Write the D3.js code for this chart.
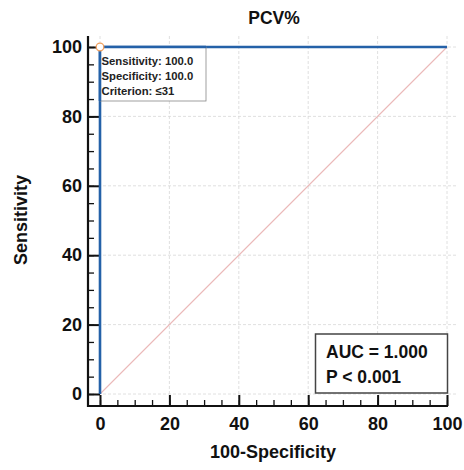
<!DOCTYPE html>
<html>
<head>
<meta charset="utf-8">
<script src="https://cdn.jsdelivr.net/npm/d3@7"></script>
<style>
  body { margin: 0; background: #fff; }
  svg { font-family: "Liberation Sans", Arial, sans-serif; }
</style>
</head>
<body>
<svg id="chart" width="464" height="470"></svg>
<script>
// ROC curve points (100-Specificity, Sensitivity)
const rocX = [0, 0, 100];
const rocY = [0, 100, 100];
const refX = [0, 100];
const refY = [0, 100];
const majorTicks = [0, 20, 40, 60, 80, 100];
const minorTicks = d3.range(0, 101, 5);
const cutoff = {x: 0, y: 100};
const infoLines = ["Sensitivity: 100.0", "Specificity: 100.0", "Criterion: \u226431"];
const statLines = ["AUC = 1.000", "P < 0.001"];

const svg = d3.select('#chart');
const FONT = '"Liberation Sans", Arial, sans-serif';

const frame = {left: 88, right: 458, top: 36, bottom: 406};

const xScale = d3.scaleLinear().domain([0, 100]).range([100, 447]);
const yScale = d3.scaleLinear().domain([0, 100]).range([394, 47]);

// grid
const grid = svg.append('g').attr('stroke', '#d8d8d8').attr('stroke-dasharray', '3,2').attr('stroke-width', 0.8);
grid.selectAll('.vg').data(majorTicks).join('line')
    .attr('x1', d => xScale(d)).attr('x2', d => xScale(d))
    .attr('y1', frame.top).attr('y2', frame.bottom);
grid.selectAll('.hg').data(majorTicks).join('line')
    .attr('y1', d => yScale(d)).attr('y2', d => yScale(d))
    .attr('x1', frame.left).attr('x2', frame.right);

// x axis, ticks point inward
const xMinor = d3.axisBottom(xScale).tickValues(minorTicks).tickSize(-6).tickFormat('');
const xMajor = d3.axisBottom(xScale).tickValues(majorTicks).tickSize(-11);
svg.append('g').attr('transform', `translate(0,${frame.bottom})`).call(xMinor)
    .call(g => g.select('.domain').remove());
svg.append('g').attr('class', 'xmaj').attr('transform', `translate(0,${frame.bottom})`).call(xMajor)
    .call(g => g.select('.domain').remove());

const yMinor = d3.axisLeft(yScale).tickValues(minorTicks).tickSize(-6).tickFormat('');
const yMajor = d3.axisLeft(yScale).tickValues(majorTicks).tickSize(-12).tickPadding(6);
svg.append('g').attr('transform', `translate(${frame.left},0)`).call(yMinor)
    .call(g => g.select('.domain').remove());
svg.append('g').attr('class', 'ymaj').attr('transform', `translate(${frame.left},0)`).call(yMajor)
    .call(g => g.select('.domain').remove());

svg.selectAll('.tick line').attr('stroke', '#111').attr('stroke-width', 1.3);
svg.selectAll('.xmaj .tick line, .ymaj .tick line').attr('stroke-width', 2);
svg.selectAll('.tick text').attr('fill', '#111').attr('font-size', 18).attr('font-weight', 'bold')
    .attr('font-family', FONT);
svg.selectAll('.xmaj .tick text').attr('dy', null).attr('y', 24);
svg.selectAll('.ymaj .tick text').attr('x', -6);

// axis lines
svg.append('line').attr('x1', frame.left).attr('x2', frame.left)
    .attr('y1', frame.top).attr('y2', frame.bottom + 1)
    .attr('stroke', '#111').attr('stroke-width', 2.2);
svg.append('line').attr('x1', frame.left - 1).attr('x2', xScale(100) + 1)
    .attr('y1', frame.bottom).attr('y2', frame.bottom)
    .attr('stroke', '#111').attr('stroke-width', 2.2);

// reference diagonal
svg.append('path')
    .datum(refX.map((x, i) => [x, refY[i]]))
    .attr('d', d3.line().x(d => xScale(d[0])).y(d => yScale(d[1])))
    .attr('fill', 'none')
    .attr('stroke', '#ebb8b8').attr('stroke-width', 1.1);

// ROC curve
const line = d3.line().x(d => xScale(d[0])).y(d => yScale(d[1]));
svg.append('path')
    .datum(rocX.map((x, i) => [x, rocY[i]]))
    .attr('d', line)
    .attr('fill', 'none')
    .attr('stroke', '#2461a8')
    .attr('stroke-width', 2.6);

// info box
const boxX = xScale(cutoff.x), boxY = yScale(cutoff.y);
svg.append('rect')
    .attr('x', boxX).attr('y', boxY)
    .attr('width', 106).attr('height', 54)
    .attr('fill', '#fff').attr('stroke', '#888').attr('stroke-width', 0.8);
svg.append('line').attr('x1', boxX).attr('x2', boxX).attr('y1', boxY).attr('y2', boxY + 54)
    .attr('stroke', '#2461a8').attr('stroke-width', 2.6);
svg.append('line').attr('x1', boxX).attr('x2', boxX + 106).attr('y1', boxY).attr('y2', boxY)
    .attr('stroke', '#2461a8').attr('stroke-width', 2.6);
svg.selectAll('.info').data(infoLines).join('text')
    .attr('x', boxX + 1.5).attr('y', (d, i) => boxY + 18 + i * 15)
    .attr('font-size', 11.3).attr('font-weight', 'bold').attr('fill', '#222')
    .text(d => d);

svg.append('circle')
    .attr('cx', xScale(cutoff.x)).attr('cy', yScale(cutoff.y)).attr('r', 3.8)
    .attr('fill', '#fff').attr('stroke', '#f0a060').attr('stroke-width', 1.3);

// stats box
svg.append('rect')
    .attr('x', 315.5).attr('y', 334).attr('width', 132).attr('height', 59)
    .attr('fill', '#fff').attr('stroke', '#444').attr('stroke-width', 1.5);
svg.selectAll('.stat').data(statLines).join('text')
    .attr('x', 326).attr('y', (d, i) => 358 + i * 25)
    .attr('font-size', 17.5).attr('font-weight', 'bold').attr('fill', '#111')
    .text(d => d);

// titles
svg.append('text').attr('x', 274).attr('y', 24).attr('text-anchor', 'middle')
    .attr('font-size', 17.5).attr('font-weight', 'bold').attr('fill', '#111').text('PCV%');
svg.append('text').attr('x', 273).attr('y', 458).attr('text-anchor', 'middle')
    .attr('font-size', 18).attr('font-weight', 'bold').attr('fill', '#111').text('100-Specificity');
svg.append('text').attr('transform', 'translate(27,220) rotate(-90)').attr('text-anchor', 'middle')
    .attr('font-size', 18).attr('font-weight', 'bold').attr('fill', '#111').text('Sensitivity');
</script>
</body>
</html>
